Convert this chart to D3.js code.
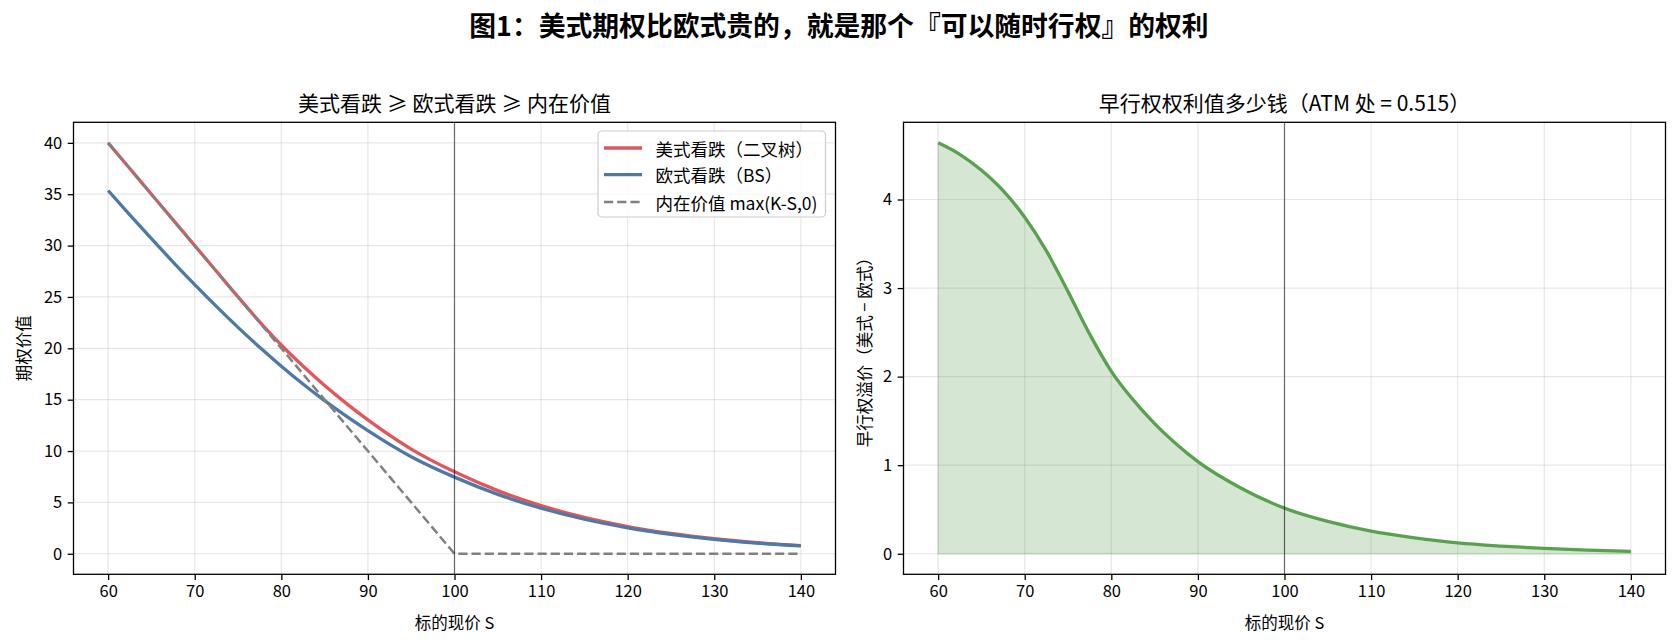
<!DOCTYPE html>
<html><head><meta charset="utf-8">
<script src="https://cdn.jsdelivr.net/npm/d3@7"></script>
<style>
body{margin:0;background:#fff}
svg{display:block}
text{font-family:"Noto Sans CJK SC","Noto Sans",sans-serif;fill:#000}
</style>
</head><body>
<svg id="chart" width="1678" height="643"></svg>
<script>
// ---- data ----
const spot = [60,62.5,65,67.5,70,72.5,75,77.5,80,82.5,85,87.5,90,95,100,105,110,115,120,125,130,135,140];
const americanPut = [40.00,37.50,35.00,32.50,30.00,27.50,25.00,22.58,20.32,18.27,16.38,14.64,13.03,10.19,7.975,6.145,4.685,3.54,2.653,1.977,1.46,1.07,0.787];
const europeanPut = [35.36,32.99,30.67,28.40,26.20,24.08,22.04,20.10,18.26,16.53,14.91,13.40,11.99,9.45,7.46,5.78,4.43,3.36,2.53,1.89,1.40,1.03,0.76];
const intrinsicValue = [40,37.5,35,32.5,30,27.5,25,22.5,20,17.5,15,12.5,10,5,0,0,0,0,0,0,0,0,0];
const earlyPremium = [4.64,4.51,4.33,4.10,3.80,3.42,2.96,2.48,2.06,1.74,1.47,1.24,1.04,0.74,0.515,0.365,0.255,0.18,0.123,0.087,0.060,0.040,0.027];
const xTicks = [60,70,80,90,100,110,120,130,140];
const leftYTicks = [0,5,10,15,20,25,30,35,40];
const rightYTicks = [0,1,2,3,4];
const strikeK = 100;
const legendLabels = ["美式看跌（二叉树）","欧式看跌（BS）","内在价值 max(K-S,0)"];
const suptitle = "图1：美式期权比欧式贵的，就是那个『可以随时行权』的权利";
const leftTitle = "美式看跌 ≥ 欧式看跌 ≥ 内在价值";
const rightTitle = "早行权权利值多少钱（ATM 处 = 0.515）";
const xLabel = "标的现价 S";
const leftYLabel = "期权价值";
const rightYLabel = "早行权溢价（美式 − 欧式）";

// ---- styles ----
const C = {red:"#E15759", blue:"#4E79A7", green:"#59A14F", gray:"#808080"};
const TICK_FS = 16.5, LABEL_FS = 16.5, TITLE_FS = 21, SUP_FS = 26.8, LEG_FS = 17.5;
const TICK_LEN = 5.8, TICK_PAD = 5.5;

const svg = d3.select("#chart");
const W = 1678, H = 643;
svg.append("rect").attr("width",W).attr("height",H).attr("fill","#fff");

const axTop = 122.3, axBottom = 574.3;
const panels = [{x0:73.5,x1:835.5},{x0:903.5,x1:1665.5}];

svg.append("text").attr("x",W/2).attr("y",24).attr("text-anchor","middle")
  .attr("dominant-baseline","central").attr("font-size",SUP_FS).attr("font-weight","bold").text(suptitle);

function makePanel(p, yDomain, yTicks, title, ylabel, ylabelX, idx){
  const x = d3.scaleLinear().domain([56,144]).range([p.x0,p.x1]);
  const y = d3.scaleLinear().domain(yDomain).range([axBottom,axTop]);
  const g = svg.append("g");
  const cid = "clip"+idx;
  svg.append("clipPath").attr("id",cid).append("rect")
    .attr("x",p.x0).attr("y",axTop).attr("width",p.x1-p.x0).attr("height",axBottom-axTop);
  const grid = g.append("g").attr("stroke","#b0b0b0").attr("stroke-opacity",0.3).attr("stroke-width",1.2);
  xTicks.forEach(t=>grid.append("line").attr("x1",x(t)).attr("x2",x(t)).attr("y1",axTop).attr("y2",axBottom));
  yTicks.forEach(t=>grid.append("line").attr("x1",p.x0).attr("x2",p.x1).attr("y1",y(t)).attr("y2",y(t)));
  const fmt = d3.format("d");
  const xa = g.append("g").attr("transform",`translate(0,${axBottom})`)
    .call(d3.axisBottom(x).tickValues(xTicks).tickFormat(fmt).tickSize(TICK_LEN).tickPadding(TICK_PAD));
  const ya = g.append("g").attr("transform",`translate(${p.x0},0)`)
    .call(d3.axisLeft(y).tickValues(yTicks).tickFormat(fmt).tickSize(TICK_LEN).tickPadding(TICK_PAD));
  [xa,ya].forEach(a=>{
    a.select(".domain").remove();
    a.selectAll(".tick line").attr("stroke","#000").attr("stroke-width",1.3);
    a.selectAll(".tick text").attr("font-size",TICK_FS).attr("font-family",'"Noto Sans CJK SC","Noto Sans",sans-serif');
  });
  svg.append("text").attr("x",(p.x0+p.x1)/2).attr("y",axTop-20).attr("text-anchor","middle")
    .attr("dominant-baseline","central").attr("font-size",TITLE_FS).text(title);
  svg.append("text").attr("x",(p.x0+p.x1)/2).attr("y",621.5).attr("text-anchor","middle")
    .attr("dominant-baseline","central").attr("font-size",LABEL_FS).text(xLabel);
  svg.append("text").attr("transform",`translate(${ylabelX},${(axTop+axBottom)/2}) rotate(-90)`)
    .attr("text-anchor","middle").attr("dominant-baseline","central").attr("font-size",LABEL_FS).text(ylabel);
  const plot = svg.append("g").attr("clip-path",`url(#${cid})`);
  return {x,y,g,plot,p};
}

// ---- left panel ----
const L = makePanel(panels[0],[-2.0,42.0],leftYTicks,leftTitle,leftYLabel,22.5,0);
const lineL = (arr,curve)=>d3.line().x((d,i)=>L.x(spot[i])).y(d=>L.y(d)).curve(curve)(arr);
L.plot.append("path").attr("d",lineL(americanPut,d3.curveMonotoneX)).attr("fill","none")
  .attr("stroke",C.red).attr("stroke-width",3.3);
L.plot.append("path").attr("d",lineL(europeanPut,d3.curveMonotoneX)).attr("fill","none")
  .attr("stroke",C.blue).attr("stroke-width",3.3);
L.plot.append("path").attr("d",lineL(intrinsicValue,d3.curveLinear)).attr("fill","none")
  .attr("stroke",C.gray).attr("stroke-width",2.5).attr("stroke-dasharray","9.2,4");
L.plot.append("line").attr("x1",L.x(strikeK)).attr("x2",L.x(strikeK)).attr("y1",axTop).attr("y2",axBottom)
  .attr("stroke","#000").attr("stroke-opacity",0.55).attr("stroke-width",1.2);

// ---- right panel ----
const R = makePanel(panels[1],[-0.232,4.872],rightYTicks,rightTitle,rightYLabel,863.5,1);
const areaR = d3.area().x((d,i)=>R.x(spot[i])).y0(R.y(0)).y1(d=>R.y(d)).curve(d3.curveMonotoneX);
R.plot.append("path").attr("d",areaR(earlyPremium)).attr("fill",C.green).attr("fill-opacity",0.25)
  .attr("stroke",C.green).attr("stroke-opacity",0.25).attr("stroke-width",1.3);
const lineR = d3.line().x((d,i)=>R.x(spot[i])).y(d=>R.y(d)).curve(d3.curveMonotoneX);
R.plot.append("path").attr("d",lineR(earlyPremium)).attr("fill","none").attr("stroke",C.green).attr("stroke-width",3.3);
R.plot.append("line").attr("x1",R.x(strikeK)).attr("x2",R.x(strikeK)).attr("y1",axTop).attr("y2",axBottom)
  .attr("stroke","#000").attr("stroke-opacity",0.55).attr("stroke-width",1.2);

panels.forEach(p=>svg.append("rect").attr("x",p.x0).attr("y",axTop).attr("width",p.x1-p.x0).attr("height",axBottom-axTop)
  .attr("fill","none").attr("stroke","#000").attr("stroke-width",1.3));

// ---- legend ----
const leg = svg.append("g");
const legRight = panels[0].x1 - 10, legTop = 131;
const rowY = [148, 174.7, 202];
const styles = [{c:C.red,w:3.3,d:null},{c:C.blue,w:3.3,d:null},{c:C.gray,w:2.5,d:"9.2,4"}];
const box = leg.append("rect");
const texts = legendLabels.map((t,i)=>leg.append("text").attr("y",rowY[i]).attr("dominant-baseline","central")
  .attr("font-size",LEG_FS).text(t));
const tw = d3.max(texts.map(t=>t.node().getComputedTextLength()));
const padL = 6, handleLen = 38, textPad = 13.5, padR = 8;
const boxW = padL+handleLen+textPad+tw+padR;
const legLeft = legRight - boxW;
box.attr("x",legLeft).attr("y",legTop).attr("width",boxW).attr("height",86).attr("rx",4)
  .attr("fill","#fff").attr("fill-opacity",0.8).attr("stroke","#cccccc").attr("stroke-width",1.2);
texts.forEach(t=>t.attr("x",legLeft+padL+handleLen+textPad));
styles.forEach((s,i)=>{
  const ln = leg.append("line").attr("x1",legLeft+padL).attr("x2",legLeft+padL+handleLen)
    .attr("y1",rowY[i]).attr("y2",rowY[i]).attr("stroke",s.c).attr("stroke-width",s.w);
  if(s.d) ln.attr("stroke-dasharray",s.d);
});
</script>
</body></html>
